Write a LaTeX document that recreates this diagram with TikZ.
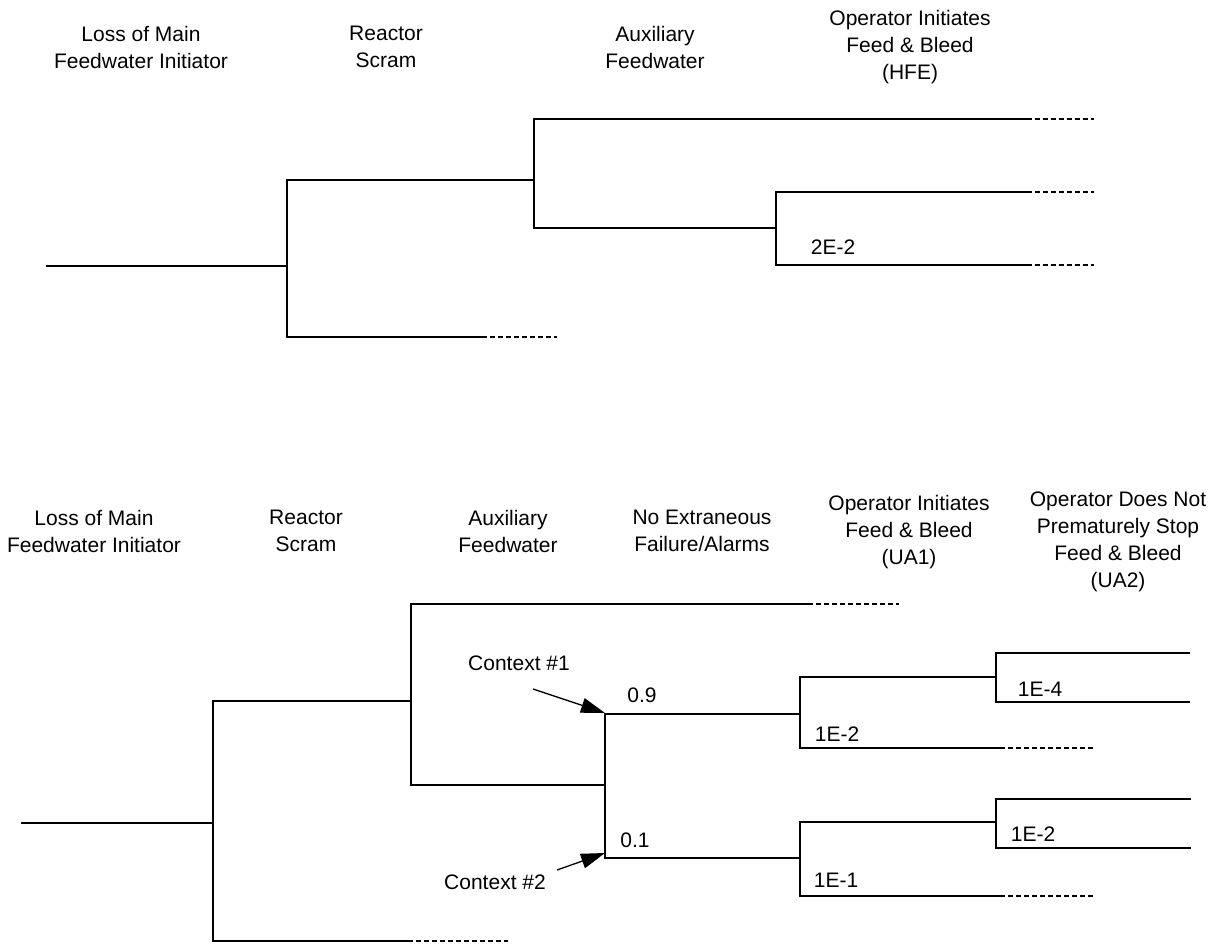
\documentclass[tikz,border=0pt]{standalone}
\usepackage{fontspec}
\setmainfont{Liberation Sans}
\usetikzlibrary{arrows.meta}
\newcommand\hfont{\fontsize{21}{27}\selectfont}
\begin{document}
\begin{tikzpicture}[x=1pt,y=-1pt,
  tl/.style={draw,line width=1.3pt,line join=miter},
  dsh/.style={draw,line width=1.3pt,dash pattern=on 5pt off 3pt},
  hdr/.style={align=center,font=\hfont,inner sep=0pt},
  lbl/.style={font=\hfont,inner sep=0pt},
  arr/.style={draw,line width=1.3pt,-{Triangle[length=24pt,width=15pt]}}]
\useasboundingbox (0,0) rectangle (1222,944);

% ---------- top tree headers ----------
\node[hdr] (h1a) at (141,47) {Loss of Main\\Feedwater Initiator};
\node[hdr] (h1b) at (386,47) {Reactor\\Scram};
\node[hdr] (h1c) at (655,47) {Auxiliary\\Feedwater};
\node[hdr] (h1d) at (910,47) {Operator Initiates\\Feed \& Bleed\\(HFE)};

% ---------- top tree ----------
\coordinate (ta0) at (46,266);
\coordinate (ta1) at (287,266);
\coordinate (tsU) at (287,180);
\coordinate (tsL) at (287,337);
\coordinate (tsLm) at (482,337);
\coordinate (tsLe) at (557,337);
\coordinate (tfA) at (534,180);
\coordinate (tfU) at (534,119);
\coordinate (tfL) at (534,228);
\coordinate (tfUm) at (1027,119);
\coordinate (tfUe) at (1094,119);
\coordinate (thA) at (776,228);
\coordinate (thU) at (776,192);
\coordinate (thL) at (776,265);
\coordinate (thUm) at (1027,192);
\coordinate (thUe) at (1094,192);
\coordinate (thLm) at (1027,265);
\coordinate (thLe) at (1094,265);

\path[tl] (ta0) -- (ta1);
\path[tl] (tfA) -- (tsU) -- (tsL) -- (tsLm);
\path[dsh] (tsLm) -- (tsLe);
\path[tl] (tfUm) -- (tfU) -- (tfL) -- (thA);
\path[dsh] (tfUm) -- (tfUe);
\path[tl] (thUm) -- (thU) -- (thL) -- (thLm);
\path[dsh] (thUm) -- (thUe);
\path[dsh] (thLm) -- (thLe);
\node[lbl] (p1) at (833,247) {2E-2};

% ---------- bottom tree headers ----------
\node[hdr] (h2a) at (94,531) {Loss of Main\\Feedwater Initiator};
\node[hdr] (h2b) at (306,531) {Reactor\\Scram};
\node[hdr] (h2c) at (508,531) {Auxiliary\\Feedwater};
\node[hdr] (h2d) at (702,531) {No Extraneous\\Failure/Alarms};
\node[hdr] (h2e) at (909,532) {Operator Initiates\\Feed \& Bleed\\(UA1)};
\node[hdr] (h2f) at (1118,542) {Operator Does Not\\Prematurely Stop\\Feed \& Bleed\\(UA2)};

% ---------- bottom tree ----------
\coordinate (ba0) at (21,823);
\coordinate (ba1) at (213,823);
\coordinate (bsU) at (213,701);
\coordinate (bsL) at (213,941);
\coordinate (bsLm) at (408,941);
\coordinate (bsLe) at (508,941);
\coordinate (bfA) at (411,701);
\coordinate (bfU) at (411,604);
\coordinate (bfL) at (411,785);
\coordinate (bfUm) at (808,604);
\coordinate (bfUe) at (899,604);
\coordinate (bcA) at (605,785);
\coordinate (bcU) at (605,714);
\coordinate (bcL) at (605,858);
% UA1 upper
\coordinate (bu1A) at (800,714);
\coordinate (bu1U) at (800,677);
\coordinate (bu1L) at (800,748);
\coordinate (bu1Lm) at (1000,748);
\coordinate (bu1Le) at (1095,748);
\coordinate (bv1A) at (996,677);
\coordinate (bv1U) at (996,653);
\coordinate (bv1L) at (996,702);
\coordinate (bv1Ue) at (1190,653);
\coordinate (bv1Le) at (1190,702);
% UA1 lower
\coordinate (bu2A) at (800,858);
\coordinate (bu2U) at (800,822);
\coordinate (bu2L) at (800,896);
\coordinate (bu2Lm) at (1000,896);
\coordinate (bu2Le) at (1094,896);
\coordinate (bv2A) at (996,822);
\coordinate (bv2U) at (996,799);
\coordinate (bv2L) at (996,848);
\coordinate (bv2Ue) at (1191,799);
\coordinate (bv2Le) at (1191,848);

\path[tl] (ba0) -- (ba1);
\path[tl] (bfA) -- (bsU) -- (bsL) -- (bsLm);
\path[dsh] (bsLm) -- (bsLe);
\path[tl] (bfUm) -- (bfU) -- (bfL) -- (bcA);
\path[dsh] (bfUm) -- (bfUe);
\path[tl] (bu1A) -- (bcU) -- (bcL) -- (bu2A);
\path[tl] (bv1A) -- (bu1U) -- (bu1L) -- (bu1Lm);
\path[dsh] (bu1Lm) -- (bu1Le);
\path[tl] (bv1Ue) -- (bv1U) -- (bv1L) -- (bv1Le);
\path[tl] (bv2A) -- (bu2U) -- (bu2L) -- (bu2Lm);
\path[dsh] (bu2Lm) -- (bu2Le);
\path[tl] (bv2Ue) -- (bv2U) -- (bv2L) -- (bv2Le);

\node[lbl] (q09) at (642,695) {0.9};
\node[lbl] (q01) at (635,840) {0.1};
\node[lbl] (q12) at (837,734) {1E-2};
\node[lbl] (q14) at (1040,689) {1E-4};
\node[lbl] (q11) at (836,880) {1E-1};
\node[lbl] (q22) at (1033,834) {1E-2};

\node[lbl] (c1) at (519,663) {Context \#1};
\node[lbl] (c2) at (495,882) {Context \#2};
\coordinate (c1s) at (533,689);
\coordinate (c2s) at (557,870);
\path[arr] (c1s) -- ([yshift=1pt]bcU);
\path[arr] (c2s) -- ([yshift=5pt]bcL);
\end{tikzpicture}
\end{document}
